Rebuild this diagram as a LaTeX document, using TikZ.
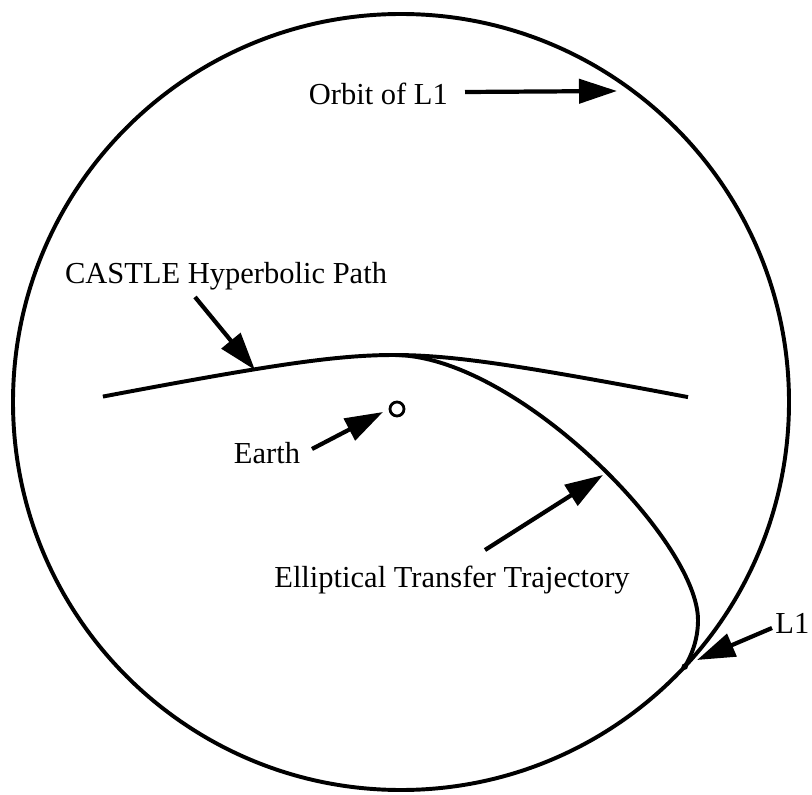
\documentclass[tikz,border=0pt]{standalone}
\usepackage{fontspec}
\setmainfont{Liberation Serif}
\usepackage{tkz-euclide}
\usetikzlibrary{arrows.meta}

\tikzset{
	orbit/.style={draw=black,line width=2.8pt},
	pointer/.style={line width=3pt,-{Triangle[length=0.95cm,width=0.6cm]}},
	lbl/.style={font=\fontsize{21.7}{26}\selectfont,inner sep=0pt,anchor=base}
}

\begin{document}
\begin{tikzpicture}
		\useasboundingbox (0,0) rectangle (20.3,19.85);
		\tkzDefPoints{10.025/9.8/O,10.025/19.5/R,9.925/9.625/E,9.85/10.975/P,17.119/3.185/L}
	%	\tkzDrawPoints[color=black,size=2pt](O,R,E,P,L)
		\tkzDrawCircle[orbit,color=black](O,R)
		% hyperbolic path
		\draw[orbit] plot[domain=-1.79:1.80,samples=60,variable=\t]
			({9.85+2.5*sinh(\t)},{10.975-0.5*(cosh(\t)-1)});
		% transfer ellipse
		\draw[orbit] (P) .. controls (12.875,10.975) and (17.45,6.35) .. (17.45,4.35)
			.. controls (17.45,3.85) and (17.28,3.45) .. (L);
		\draw[line width=2pt] (E) circle (0.175);
		\fill (L) circle (0.08);
	
		\tkzDefPoints{11.625/17.55/a1,15.425/17.575/a2,4.875/12.425/b1,6.375/10.6/b2}
		\tkzDefPoints{7.8/8.625/c1,9.575/9.55/c2,12.125/6.1/d1,15.075/7.975/d2}
		\tkzDefPoints{19.3/4.15/e1,17.425/3.35/e2}
		\draw[pointer] (a1) -- (a2);
		\draw[pointer] (b1) -- (b2);
		\draw[pointer] (c1) -- (c2);
		\draw[pointer] (d1) -- (d2);
		\draw[pointer] (e1) -- (e2);
	
		\node[lbl] (orbitL1) at (9.46,17.225) {Orbit of L1};
		\node[lbl] (castle) at (5.65,12.75) {CASTLE Hyperbolic Path};
		\node[lbl] (earth) at (6.675,8.275) {Earth};
		\node[lbl] (transfer) at (11.3,5.175) {Elliptical Transfer Trajectory};
		\node[lbl,anchor=base west] (pointL1) at (19.38,4.025) {L1};
	\end{tikzpicture}
\end{document}
